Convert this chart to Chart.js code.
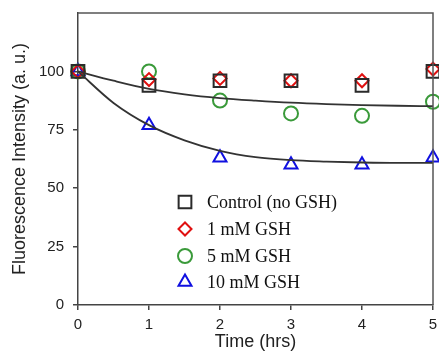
<!DOCTYPE html>
<html><head><meta charset="utf-8">
<script src="https://cdn.jsdelivr.net/npm/chart.js@4/dist/chart.umd.min.js"></script>
<style>html,body{margin:0;padding:0;background:#fff}#wrap{width:439px;height:353px}</style>
</head><body><div id="wrap"><canvas id="c" width="439" height="353"></canvas></div>
<script>
const times = [0, 1, 2, 3, 4, 5];
const control = [100, 94, 96, 96, 94, 100];
const gsh1 = [100, 96.5, 97, 96, 96, 101];
const gsh5 = [100, 100, 87.5, 82, 81, 87];
const gsh10 = [100, 77, 63, 60, 60, 63];
const fitTimes = [0, 0.5, 1, 1.5, 2, 2.5, 3, 3.5, 4, 4.5, 5];
const fitUpper = [100, 96, 92.5, 90.2, 88.6, 87.5, 86.6, 86, 85.6, 85.3, 85.1];
const fitLower = [100, 86.5, 77, 70.5, 66, 63.3, 62, 61.4, 61, 60.8, 60.8];
const yTicks = [0, 25, 50, 75, 100];
const xTicks = [0, 1, 2, 3, 4, 5];
const seriesNames = ['Control (no GSH)', '1 mM GSH', '5 mM GSH', '10 mM GSH'];

const pts = (xs, ys) => xs.map((x, i) => ({x: x, y: ys[i]}));
const sty = [
  {style: 'rect', color: '#2a2a2a', r: 9},
  {style: 'rectRot', color: '#e01010', r: 6.5},
  {style: 'circle', color: '#3a9a3a', r: 7},
  {style: 'triangle', color: '#1010e0', r: 7.5}
];
const seriesData = [control, gsh1, gsh5, gsh10];
const datasets = [
  {type: 'line', data: pts(fitTimes, fitUpper), borderColor: '#333', borderWidth: 1.8, pointRadius: 0, tension: 0.4, cubicInterpolationMode: 'monotone', fill: false},
  {type: 'line', data: pts(fitTimes, fitLower), borderColor: '#333', borderWidth: 1.8, pointRadius: 0, tension: 0.4, cubicInterpolationMode: 'monotone', fill: false}
];
seriesData.forEach((d, i) => {
  datasets.push({type: 'scatter', label: seriesNames[i], data: pts(times, d), pointStyle: sty[i].style,
    pointRadius: sty[i].r, pointBorderColor: sty[i].color, pointBackgroundColor: 'rgba(0,0,0,0)',
    pointBorderWidth: 2, clip: false, showLine: false});
});

const boxLegend = {
  id: 'boxLegend',
  afterDatasetsDraw(chart) {
    const ctx = chart.ctx, a = chart.chartArea;
    ctx.save();
    ctx.strokeStyle = '#555';
    ctx.lineWidth = 1.5;
    ctx.beginPath();
    ctx.moveTo(a.left, a.top); ctx.lineTo(a.right, a.top); ctx.lineTo(a.right, a.bottom);
    ctx.stroke();
    const rows = [202, 229, 256, 282];
    ctx.textBaseline = 'middle';
    rows.forEach((y, i) => {
      ctx.strokeStyle = sty[i].color;
      ctx.fillStyle = 'rgba(0,0,0,0)';
      ctx.lineWidth = 2;
      Chart.helpers.drawPoint(ctx, {pointStyle: sty[i].style, radius: sty[i].r, rotation: 0, borderWidth: 2}, 185, y);
      ctx.fillStyle = '#111';
      ctx.font = '18px "Liberation Serif", "Times New Roman", serif';
      ctx.fillText(seriesNames[i], 207, y + 1);
    });
    ctx.restore();
  }
};

new Chart(document.getElementById('c'), {
  data: {datasets: datasets},
  options: {
    responsive: false, animation: false,
    layout: {autoPadding: false, padding: {top: 13, right: 6, left: 0, bottom: 0}},
    plugins: {legend: {display: false}, tooltip: {enabled: false}},
    scales: {
      x: {type: 'linear', min: 0, max: 5,
        afterBuildTicks: s => { s.ticks = xTicks.map(v => ({value: v})); },
        afterFit: s => { s.height = 48; s.paddingLeft = 0; s.paddingRight = 0; },
        grid: {display: true, drawOnChartArea: false, drawTicks: true, tickLength: 5, color: '#444', lineWidth: 1.5},
        border: {color: '#444', width: 1.5},
        ticks: {color: '#222', font: {family: '"Liberation Sans", Arial, sans-serif', size: 15}, padding: 6},
        title: {display: true, text: 'Time (hrs)', color: '#222', font: {family: '"Liberation Sans", Arial, sans-serif', size: 18}, padding: {top: 0, bottom: 0}}
      },
      y: {type: 'linear', min: 0, max: 125,
        afterBuildTicks: s => { s.ticks = yTicks.map(v => ({value: v})); },
        afterFit: s => { s.width = 78; s.paddingTop = 0; s.paddingBottom = 0; },
        grid: {display: true, drawOnChartArea: false, drawTicks: true, tickLength: 5, color: '#444', lineWidth: 1.5},
        border: {color: '#444', width: 1.5},
        ticks: {color: '#222', font: {family: '"Liberation Sans", Arial, sans-serif', size: 15}, padding: 9},
        title: {display: true, text: 'Fluorescence Intensity (a. u.)', color: '#222', font: {family: '"Liberation Sans", Arial, sans-serif', size: 18}, padding: {top: 9, bottom: 0}}
      }
    }
  },
  plugins: [boxLegend]
});
</script></body></html>
